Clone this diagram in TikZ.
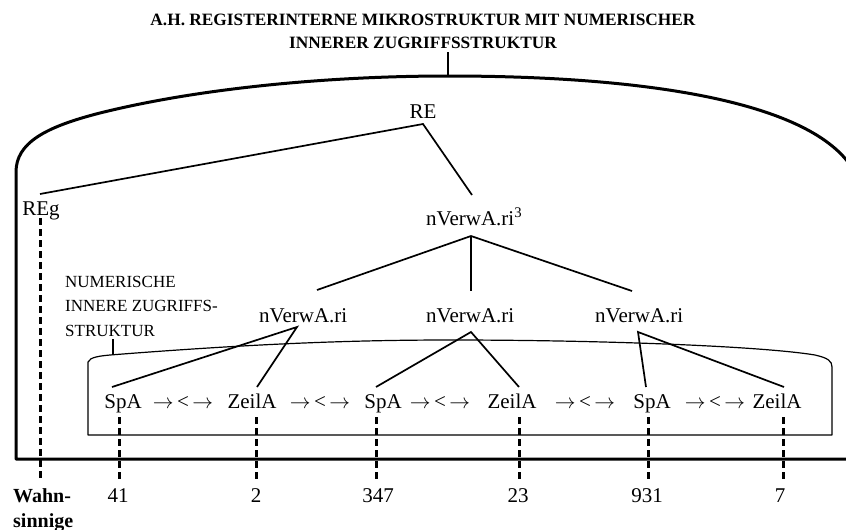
\documentclass[tikz,border=0pt]{standalone}
\usepackage{fontspec}
\setmainfont{Liberation Serif}
\begin{document}
\begin{tikzpicture}[x=1pt,y=-1pt,
  lbl/.style={font=\fontsize{21}{25}\selectfont, inner sep=0pt, anchor=base},
  lblw/.style={lbl, anchor=base west},
  ttl/.style={font=\bfseries\fontsize{17.3}{20}\selectfont, inner sep=0pt, anchor=base},
  small/.style={font=\fontsize{17}{20}\selectfont, inner sep=0pt, anchor=base west},
  bold/.style={font=\bfseries\fontsize{20}{24}\selectfont, inner sep=0pt, anchor=base west},
  outer/.style={line width=3pt, line join=round},
  inner/.style={line width=1.2pt, line join=round},
  edge/.style={line width=1.7pt},
  tick/.style={line width=1.1pt},
  dashline/.style={line width=3pt, dash pattern=on 7pt off 4pt}
]
\useasboundingbox (0,0) rectangle (846,530);
\clip (0,0) rectangle (846,530);

% outer register frame
\draw[outer] (850,459) -- (16,459) -- (16,172)
  .. controls (16,143) and (45,127) .. (100,113)
  .. controls (200,88) and (330,76) .. (448,76)
  .. controls (640,76) and (800,100) .. (848,162);

% inner access-structure frame
\draw[inner] (88,435) -- (88,362)
  .. controls (90,357) and (100,356) .. (110,355)
  .. controls (250,344) and (350,340) .. (450,340)
  .. controls (600,340) and (760,346) .. (815,355)
  .. controls (828,358) and (832,361) .. (832,367)
  -- (832,435) -- cycle;

% title
\node[ttl] (t1) at (423,25) {A.H. REGISTERINTERNE MIKROSTRUKTUR MIT NUMERISCHER};
\node[ttl] (t2) at (423,48) {INNERER ZUGRIFFSSTRUKTUR};
\coordinate (tTick) at (448,52);
\coordinate (arcTop) at (448,76);
\draw[tick] (tTick) -- (arcTop);

% label of the inner structure
\node[small] (nl1) at (65,287) {NUMERISCHE};
\node[small] (nl2) at (65,311) {INNERE ZUGRIFFS-};
\node[small] (nl3) at (65,336) {STRUKTUR};
\coordinate (nlTick) at (113,339);
\coordinate (boxTop) at (113,355);
\draw[tick] (nlTick) -- (boxTop);

% tree nodes
\node[lbl] (RE) at (423,118) {RE};
\node[lbl] (REg) at (41,215) {REg};
\node[lblw] (n3) at (426,225) {nVerwA.ri\textsuperscript{3}};
\node[lblw] (ri1) at (259,322) {nVerwA.ri};
\node[lblw] (ri2) at (426,322) {nVerwA.ri};
\node[lblw] (ri3) at (595,322) {nVerwA.ri};

\coordinate (REv) at (423,124);
\coordinate (REgTop) at (40,194);
\coordinate (n3top) at (472,195);
\coordinate (n3bot) at (471,236);
\coordinate (ri1top) at (317,290);
\coordinate (ri2top) at (471,291);
\coordinate (ri3top) at (632,291);
\coordinate (ri1bot) at (297,327);
\coordinate (ri2bot) at (471,332);
\coordinate (ri3bot) at (638,332);

% row of page and line addresses
\newcommand{\lnk}{$\rightarrow$\,<\,$\rightarrow$}
\node[lbl] (sp1) at (123,408) {SpA};
\node[lbl] (a1)  at (183,408) {\lnk};
\node[lbl] (ze1) at (252,408) {ZeilA};
\node[lbl] (a2)  at (320,408) {\lnk};
\node[lbl] (sp2) at (383,408) {SpA};
\node[lbl] (a3)  at (440,408) {\lnk};
\node[lbl] (ze2) at (512,408) {ZeilA};
\node[lbl] (a4)  at (585,408) {\lnk};
\node[lbl] (sp3) at (652,408) {SpA};
\node[lbl] (a5)  at (715,408) {\lnk};
\node[lbl] (ze3) at (777,408) {ZeilA};

\coordinate (sp1top) at (112,387);
\coordinate (ze1top) at (257,387);
\coordinate (sp2top) at (376,387);
\coordinate (ze2top) at (519,387);
\coordinate (sp3top) at (646,387);
\coordinate (ze3top) at (784,387);

% tree edges
\draw[edge] (REgTop) -- (REv) -- (n3top);
\draw[edge] (ri1top) -- (n3bot) -- (ri3top);
\draw[edge] (n3bot) -- (ri2top);
\draw[edge] (sp1top) -- (ri1bot) -- (ze1top);
\draw[edge] (sp2top) -- (ri2bot) -- (ze2top);
\draw[edge] (sp3top) -- (ri3bot) -- (ze3top);

% numbers
\node[lbl] (v1) at (118,502) {41};
\node[lbl] (v2) at (256,502) {2};
\node[lbl] (v3) at (378,502) {347};
\node[lbl] (v4) at (518,502) {23};
\node[lbl] (v5) at (647,502) {931};
\node[lbl] (v6) at (780,502) {7};
\node[bold] (w1) at (13,502) {Wahn-};
\node[bold] (w2) at (13,527) {sinnige};

% dashed reference lines
\coordinate (g0a) at (40,218);  \coordinate (g0b) at (40,478);
\coordinate (g1a) at (119,417); \coordinate (g1b) at (119,482);
\coordinate (g2a) at (256,417); \coordinate (g2b) at (256,482);
\coordinate (g3a) at (376,417); \coordinate (g3b) at (376,482);
\coordinate (g4a) at (519,417); \coordinate (g4b) at (519,482);
\coordinate (g5a) at (648,417); \coordinate (g5b) at (648,482);
\coordinate (g6a) at (783,417); \coordinate (g6b) at (783,482);
\foreach \i in {0,...,6} \draw[dashline] (g\i a) -- (g\i b);
\end{tikzpicture}
\end{document}
